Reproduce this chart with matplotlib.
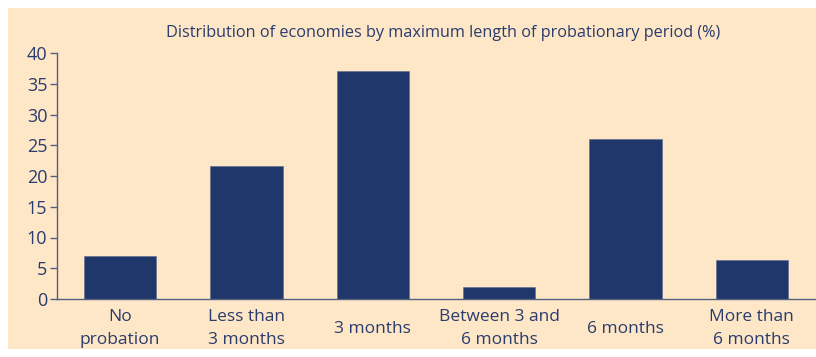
import matplotlib.pyplot as plt
from matplotlib.patches import Rectangle

categories = ['No\nprobation', 'Less than\n3 months', '3 months',
              'Between 3 and\n6 months', '6 months', 'More than\n6 months']
values = [7.0, 21.6, 37.0, 2.0, 26.0, 6.3]
yticks = [0, 5, 10, 15, 20, 25, 30, 35, 40]

navy = '#1f376b'
text_col = '#2a3b6e'
bg = '#fee7c6'

plt.rcParams['font.family'] = ['Open Sans', 'DejaVu Sans']

fig = plt.figure(figsize=(8.16, 3.57), dpi=100)
fig.patch.set_facecolor('white')
fig.patches.append(Rectangle((8 / 816, 1 - 349 / 357), 1, 341 / 357,
                             transform=fig.transFigure, facecolor=bg,
                             edgecolor='none', zorder=-10))

ax = fig.add_axes([57 / 816, 1 - 299 / 357, 758 / 816, 246 / 357])
ax.set_facecolor('none')
ax.set_zorder(5)

x = range(len(categories))
ax.bar(x, values, width=0.57, color=navy, edgecolor='#5a6a90', linewidth=0.4)

ax.set_xlim(-0.5, 5.5)
ax.set_ylim(0, 40)
ax.set_yticks(yticks)
ax.set_xticks(list(x))
ax.set_xticklabels(categories, fontsize=12.5, color=text_col, linespacing=1.6)
for lbl in ax.get_xticklabels():
    lbl.set_va('center')
ax.tick_params(axis='x', length=0, pad=21.5)
ax.tick_params(axis='y', length=5, width=1, color='#55607f', labelsize=13,
               labelcolor=text_col, pad=2)

for s in ['top', 'right']:
    ax.spines[s].set_visible(False)
for s in ['left', 'bottom']:
    ax.spines[s].set_color('#55607f')
    ax.spines[s].set_linewidth(1)

fig.text(443 / 816, 1 - 33 / 357,
         'Distribution of economies by maximum length of probationary period (%)',
         ha='center', va='center', fontsize=11.7, color=text_col)

fig.savefig('out.png', dpi=100, facecolor=fig.get_facecolor())
